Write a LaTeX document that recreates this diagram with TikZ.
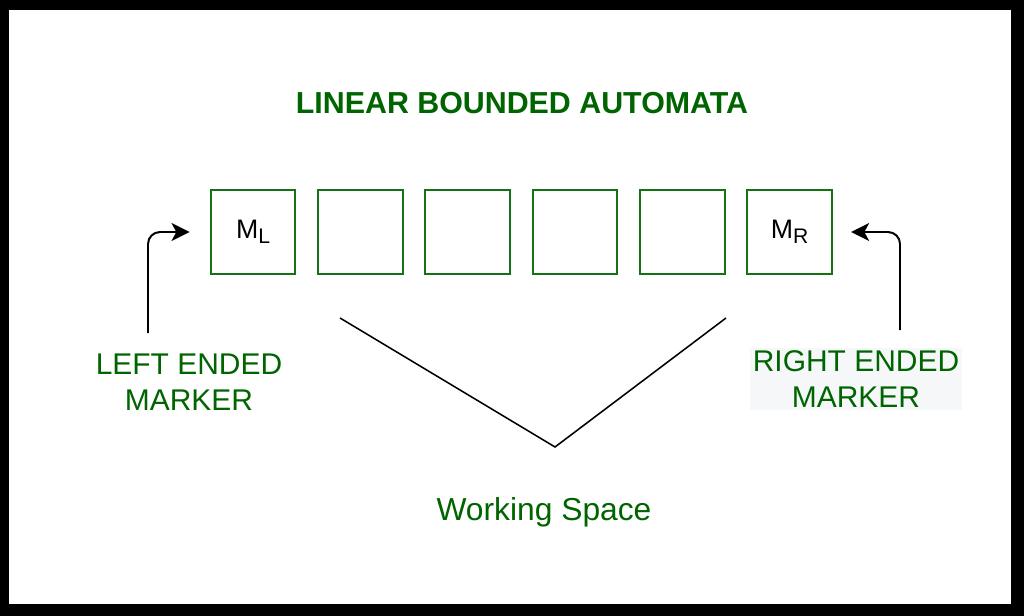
\documentclass[tikz,border=0pt]{standalone}
\usepackage{fontspec}
\setmainfont{Liberation Sans}
\usepackage{tikz}
\usetikzlibrary{arrows.meta}
\usetikzlibrary{positioning}

\definecolor{lbagreen}{RGB}{0,100,0}
\definecolor{cellgreen}{RGB}{20,115,20}
\definecolor{markbg}{RGB}{245,247,249}

\newcommand{\marksub}[1]{\raisebox{-0.32ex}{\fontsize{15}{15}\selectfont #1}}

\tikzset{
  cell/.style={draw=cellgreen, line width=1.5pt, minimum size=2.12cm, inner sep=0pt,
    font=\fontsize{19}{22}\selectfont},
  label/.style={text=lbagreen, align=center, font=\fontsize{21.3}{25.5}\selectfont},
  pointer/.style={line width=1.4pt, rounded corners=0.3cm,
    -{Stealth[length=0.45cm,width=0.45cm,inset=0.12cm]}}
}

\begin{document}
\begin{tikzpicture}[x=0.025cm,y=-0.025cm]
  % Frame of the picture
  \fill[black] (0,0) rectangle (1024,616);
  \fill[white] (9,10) rectangle (1011,604);
  \useasboundingbox (0,0) rectangle (1024,616);

  % Title
  \node[label, font=\fontsize{21.6}{25}\selectfont\bfseries] (title) at (522,103) {LINEAR BOUNDED AUTOMATA};

  % The tape cells
  \node[cell] (c1) at (253,232) {M\marksub{L}};
  \node[cell, right=0.51cm of c1] (c2) {};
  \node[cell, right=0.51cm of c2] (c3) {};
  \node[cell, right=0.51cm of c3] (c4) {};
  \node[cell, right=0.51cm of c4] (c5) {};
  \node[cell, right=0.51cm of c5] (c6) {M\marksub{R}};

  % The end markers
  \node[label] (left) at (189,382) {LEFT ENDED\\MARKER};
  \node[label, fill=markbg, inner sep=2pt] (right) at (856,379) {RIGHT ENDED\\MARKER};
  \coordinate (lfoot) at (148,333);
  \coordinate (rfoot) at (900,330);
  \draw[pointer, shorten >=0.5cm] (lfoot) |- (c1.west);
  \draw[pointer, shorten >=0.45cm] (rfoot) |- (c6.east);

  % Working space
  \coordinate (vl) at (340,318);
  \coordinate (vb) at (555,447);
  \coordinate (vr) at (726,318);
  \draw[line width=1.1pt] (vl) -- (vb) -- (vr);
  \node[label, font=\fontsize{22.6}{26}\selectfont] (work) at (544,512) {Working Space};
\end{tikzpicture}
\end{document}
